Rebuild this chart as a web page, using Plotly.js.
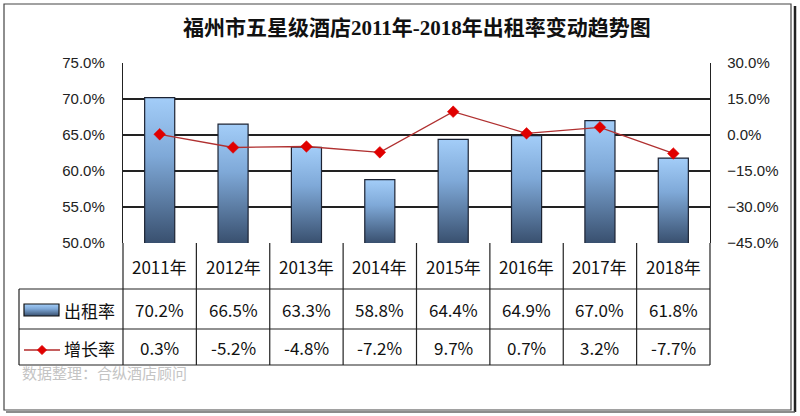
<!DOCTYPE html>
<html><head><meta charset="utf-8">
<script src="https://cdn.plot.ly/plotly-3.0.1.min.js"></script>
<style>html,body{margin:0;padding:0;background:#fff;}#chart{width:800px;height:416px;}</style>
</head><body><div id="chart"></div>
<script>
const years = ['2011年','2012年','2013年','2014年','2015年','2016年','2017年','2018年'];
const occupancy = [70.2, 66.5, 63.3, 58.8, 64.4, 64.9, 67.0, 61.8];
const growth = [0.3, -5.2, -4.8, -7.2, 9.7, 0.7, 3.2, -7.7];
const seriesNames = ['出租率', '增长率'];
const titleText = '福州市五星级酒店2011年-2018年出租率变动趋势图';
const sourceText = '数据整理：合纵酒店顾问';

// layout geometry (pixels)
const W = 800, H = 416;
const PL = 123, PR = 710, PT = 63, PB = 243;
const pw = PR - PL, ph = PB - PT;
const px2x = p => (p - PL) / pw;
const py2y = p => (PB - p) / ph;

const rowYear = 289, rowOcc = 329, rowGrowth = 365, tableLeft = 19;
const ink = '#222';
const tableFont = {family: 'Noto Sans CJK SC, Noto Sans, sans-serif', size: 17, color: '#111'};

const shapes = [];
const hline = (x0, x1, y, w) => shapes.push({type:'line', xref:'paper', yref:'paper', x0:px2x(x0), x1:px2x(x1), y0:py2y(y), y1:py2y(y), line:{color:ink, width:w||1.2}});
const vline = (x, y0, y1) => shapes.push({type:'line', xref:'paper', yref:'paper', x0:px2x(x), x1:px2x(x), y0:py2y(y0), y1:py2y(y1), line:{color:ink, width:1.2}});

// outer border
shapes.push({type:'rect', xref:'paper', yref:'paper', x0:px2x(4), x1:px2x(791), y0:py2y(4), y1:py2y(410), line:{color:'#444', width:1.2}});
shapes.push({type:'line', xref:'paper', yref:'paper', x0:px2x(795), x1:px2x(795), y0:py2y(6), y1:py2y(412), line:{color:'#222', width:2.5}});
shapes.push({type:'line', xref:'paper', yref:'paper', x0:px2x(6), x1:px2x(795), y0:py2y(412), y1:py2y(412), line:{color:'#666', width:1.5}});

// table grid
hline(tableLeft, PR, rowYear);
hline(tableLeft, PR, rowOcc);
hline(tableLeft, PR, rowGrowth);
vline(tableLeft, rowYear, rowGrowth);
for (let i = 0; i <= years.length; i++) {
  vline(PL + i * pw / years.length, PB, rowGrowth);
}
// legend swatches inside table
const swatchIndex = shapes.length;
shapes.push({type:'rect', xref:'paper', yref:'paper', x0:px2x(24), x1:px2x(59), y0:py2y(304), y1:py2y(316), line:{color:'#111', width:1.2}, fillcolor:'#6a8fbf'});
shapes.push({type:'line', xref:'paper', yref:'paper', x0:px2x(24), x1:px2x(60), y0:py2y(350), y1:py2y(350), line:{color:'#b22a2a', width:1.3}});
const dcx = px2x(42), dcy = py2y(350), dx = 4.5 / pw, dy = 4.5 / ph;
shapes.push({type:'path', xref:'paper', yref:'paper', path:`M ${dcx-dx} ${dcy} L ${dcx} ${dcy+dy} L ${dcx+dx} ${dcy} L ${dcx} ${dcy-dy} Z`, fillcolor:'#e00000', line:{color:'#e00000', width:1}});

const annotations = [];
const ann = (o) => annotations.push(Object.assign({showarrow:false, xanchor:'center', yanchor:'middle'}, o));
years.forEach((y, i) => {
  ann({xref:'x', yref:'paper', x:i, y:py2y(266), text:y, font:tableFont});
  ann({xref:'x', yref:'paper', x:i, y:py2y(309), text:occupancy[i].toFixed(1)+'%', font:tableFont});
  ann({xref:'x', yref:'paper', x:i, y:py2y(347), text:growth[i].toFixed(1)+'%', font:tableFont});
});
ann({xref:'paper', yref:'paper', x:px2x(62), y:py2y(310), xanchor:'left', text:seriesNames[0], font:tableFont});
ann({xref:'paper', yref:'paper', x:px2x(62), y:py2y(348), xanchor:'left', text:seriesNames[1], font:tableFont});
ann({xref:'paper', yref:'paper', x:px2x(20), y:py2y(372), xanchor:'left', text:sourceText, font:{family:'Noto Sans CJK SC, sans-serif', size:15, color:'#c4c4c4'}});
ann({xref:'paper', yref:'paper', x:0.5, y:py2y(28), text:'<b>'+titleText+'</b>', font:{family:'Liberation Serif, Noto Sans CJK SC, serif', size:21, color:'#111'}});

const traces = [
  {type:'bar', x:years.map((_, i) => i), y:occupancy, name:seriesNames[0], width:0.41,
   marker:{color:'#6a8fbf', line:{color:'#1c2333', width:1.2}}, yaxis:'y', hoverinfo:'skip'},
  {type:'scatter', mode:'lines+markers', x:years.map((_, i) => i), y:growth, name:seriesNames[1], yaxis:'y2',
   line:{color:'#b03030', width:1.3}, marker:{symbol:'diamond', size:9, color:'#e00000', line:{color:'#e00000', width:0.5}}, hoverinfo:'skip'}
];

const axisFont = {family:'Liberation Sans, Arial, sans-serif', size:15, color:'#222'};
const layout = {
  width: W, height: H,
  margin: {l:PL, r:W-PR, t:PT, b:H-PB, pad:0},
  paper_bgcolor:'#fff', plot_bgcolor:'#fff',
  showlegend:false,
  xaxis:{range:[-0.5, years.length-0.5], showticklabels:false, showgrid:false, zeroline:false, ticks:'', showline:false, fixedrange:true},
  yaxis:{range:[50, 75], dtick:5, tick0:50, ticksuffix:'%', tickformat:'.1f', showgrid:true, gridcolor:'#222', gridwidth:1.2,
         zeroline:false, showline:true, linecolor:'#222', linewidth:1.2, ticks:'', ticklabelstandoff:14, tickfont:axisFont, mirror:true},
  yaxis2:{range:[-45, 30], dtick:15, tick0:-45, ticksuffix:'%', tickformat:'.1f', overlaying:'y', side:'right', showgrid:false,
          zeroline:false, showline:true, linecolor:'#222', linewidth:1.2, ticks:'', ticklabelstandoff:13, tickfont:axisFont},
  shapes: shapes,
  annotations: annotations
};

function makeGrad(defs, id, y1, y2) {
  const svgNS = 'http://www.w3.org/2000/svg';
  const grad = document.createElementNS(svgNS, 'linearGradient');
  grad.setAttribute('id', id);
  grad.setAttribute('gradientUnits', 'userSpaceOnUse');
  grad.setAttribute('x1', '0'); grad.setAttribute('x2', '0');
  grad.setAttribute('y1', String(y1)); grad.setAttribute('y2', String(y2));
  [['0%', '#a3cdf8'], ['40%', '#7fa9d8'], ['100%', '#39506f']].forEach(([o, c]) => {
    const s = document.createElementNS(svgNS, 'stop');
    s.setAttribute('offset', o); s.setAttribute('stop-color', c);
    grad.appendChild(s);
  });
  defs.appendChild(grad);
}

Plotly.newPlot('chart', traces, layout, {staticPlot:true, displayModeBar:false}).then(gd => {
  const svgNS = 'http://www.w3.org/2000/svg';
  const svg = gd.querySelector('.main-svg');
  const defs = document.createElementNS(svgNS, 'defs');
  svg.insertBefore(defs, svg.firstChild);
  gd.querySelectorAll('.barlayer .point path').forEach((p, k) => {
    const bb = p.getBBox();
    makeGrad(defs, 'barGrad' + k, bb.y, ph);
    p.style.fill = 'url(#barGrad' + k + ')';
  });
  gd.querySelectorAll('path[data-index="' + swatchIndex + '"]').forEach((p, k) => {
    const bb = p.getBBox();
    makeGrad(defs, 'swGrad' + k, bb.y, bb.y + bb.height);
    p.style.fill = 'url(#swGrad' + k + ')';
  });
});
</script></body></html>
